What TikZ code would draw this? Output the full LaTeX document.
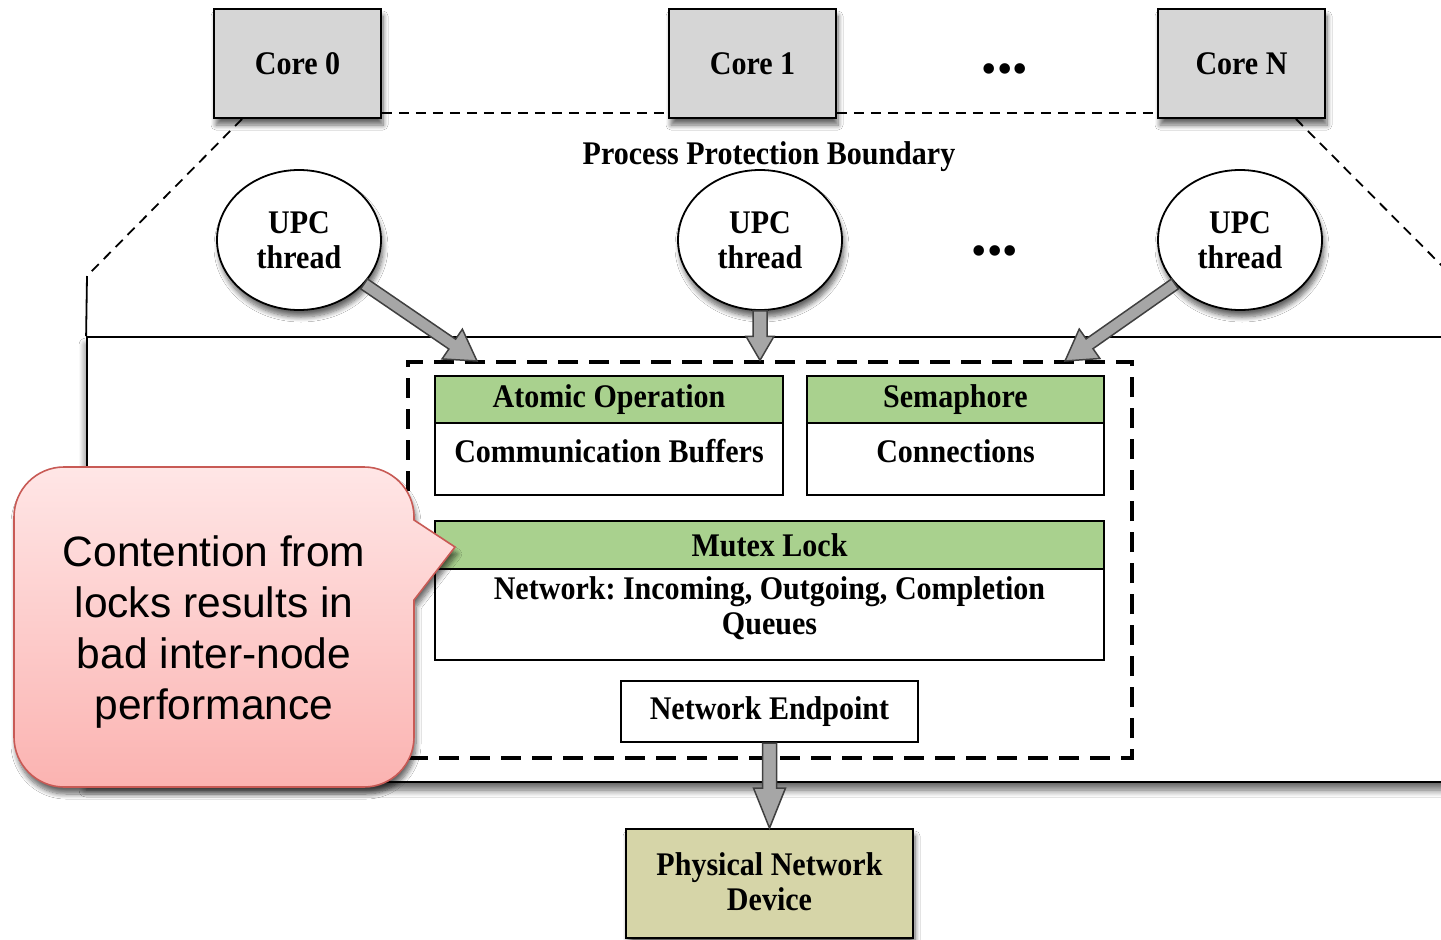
\documentclass[tikz,border=0pt]{standalone}
\usepackage{fontspec}
\setmainfont{Liberation Serif}[FakeStretch=0.91]
\newfontfamily\dotsfont{Liberation Serif}
\newfontfamily\callfont{Liberation Sans}
\usetikzlibrary{shapes.geometric,shadows.blur,calc}
\frenchspacing

\definecolor{coregray}{HTML}{D6D6D6}
\definecolor{hdrgreen}{HTML}{A9D18E}
\definecolor{physkhaki}{HTML}{D6D5A8}
\definecolor{arrowfill}{HTML}{A6A6A6}
\definecolor{arrowline}{HTML}{404040}
\definecolor{calltop}{HTML}{FFE6E6}
\definecolor{callbot}{HTML}{FBB3B1}
\definecolor{callline}{HTML}{C85A55}

\tikzset{
  boxtext/.style={font=\fontsize{33}{35}\selectfont\bfseries, align=center, inner sep=0pt},
  softshadow/.style={blur shadow={shadow xshift=2pt, shadow yshift=-7pt,
      shadow blur radius=5pt, shadow blur steps=8, shadow opacity=60}},
  corebox/.style={boxtext, draw, line width=1.8pt, fill=coregray,
      minimum width=167pt, minimum height=109pt, softshadow},
  thread/.style={boxtext, ellipse, draw, line width=1.8pt, fill=white,
      minimum width=164pt, minimum height=140pt, softshadow},
  header/.style={boxtext, draw, line width=2pt, fill=hdrgreen},
  panel/.style={draw, line width=2pt, fill=white, inner sep=0pt},
  boundary/.style={line width=1.8pt, dash pattern=on 10pt off 7pt},
  region/.style={draw, line width=3.4pt, dash pattern=on 20pt off 11pt, inner sep=0pt},
  dotrow/.style={font=\dotsfont\fontsize{44}{44}\selectfont, inner sep=0pt},
  blockarrowstyle/.style={fill=arrowfill, draw=arrowline, line width=1.5pt, line join=miter},
}

% block arrow: start, end, shaft half width, head half width, head length
\newcommand\blockarrow[5]{%
  \path (#1) coordinate (bas) (#2) coordinate (bae);
  \path ($(bae)!#5!(bas)$) coordinate (bah);
  \filldraw[blockarrowstyle]
    ($(bas)!#3!90:(bae)$) -- ($(bah)!#3!90:(bae)$) -- ($(bah)!#4!90:(bae)$)
    -- (bae) -- ($(bah)!#4!-90:(bae)$) -- ($(bah)!#3!-90:(bae)$)
    -- ($(bas)!#3!-90:(bae)$) -- cycle;
}

\begin{document}
\begin{tikzpicture}[x=1pt,y=-1pt]
\useasboundingbox (0,0) rectangle (1441,940);
\clip (0,0) rectangle (1441,940);
\fill[white] (0,0) rectangle (1441,940);

% process region
\node[panel, line width=1.8pt, minimum width=1383pt, minimum height=445pt,
      blur shadow={shadow xshift=-1pt, shadow yshift=-8pt, shadow blur radius=7pt,
      shadow blur steps=8, shadow opacity=60}] (proc) at (778.5,559.5) {};

% cores
\node[corebox] (c0) at (297.5,63.5) {Core 0};
\node[corebox] (c1) at (752.5,63.5) {Core 1};
\node[corebox] (cN) at (1241.5,63.5) {Core N};
\node[dotrow] (cdots) at (1005,74) {•••};

% protection boundary
\coordinate (bl) at (87,276);
\coordinate (br) at (1470,294);
\draw[boundary] ($(c0.south east)+(0,-6)$) -- ($(c1.south west)+(0,-6)$);
\draw[boundary] ($(c1.south east)+(0,-6)$) -- ($(cN.south west)+(0,-6)$);
\draw[boundary] ($(c0.south west)+(29,0)$) -- (bl);
\draw[boundary] ($(cN.south east)+(-30,0)$) -- (br);
\draw[line width=1.8pt] (bl) -- (proc.north west);
\node[boxtext] (ppb) at (769,157) {Process Protection Boundary};

% threads
\node[thread] (u0) at (299,240) {UPC\\thread};
\node[thread] (u1) at (760,240) {UPC\\thread};
\node[thread] (u2) at (1240,240) {UPC\\thread};
\node[dotrow] (udots) at (995,256) {•••};

% dashed region holding the shared resources
\node[region, minimum width=724pt, minimum height=396pt] (dbox) at (770,560) {};
\coordinate (t0) at (477,361);
\coordinate (t1) at (u1.south |- dbox.north);
\coordinate (t2) at (1065,361);
\blockarrow{u0.-34}{t0}{6pt}{18pt}{30pt}
\blockarrow{u1.south}{t1}{7pt}{14pt}{24pt}
\blockarrow{u2.-146}{t2}{6pt}{18pt}{30pt}

% resources
\node[panel, minimum width=348pt, minimum height=72pt] (atomb) at (609,459) {};
\node[header, minimum width=348pt, minimum height=47pt] (atomh) at (609,399.5) {Atomic Operation};
\node[boxtext] (atomt) at (609,451) {Communication Buffers};

\node[panel, minimum width=297pt, minimum height=72pt] (semab) at (955.5,459) {};
\node[header, minimum width=297pt, minimum height=47pt] (semah) at (955.5,399.5) {Semaphore};
\node[boxtext] (semat) at (955.5,451) {Connections};

\node[panel, minimum width=669pt, minimum height=91pt] (mutb) at (769.5,614.5) {};
\node[header, minimum width=669pt, minimum height=48pt] (muth) at (769.5,545) {Mutex Lock};
\node[boxtext] (mutt) at (769.5,608) {Network: Incoming, Outgoing, Completion\\Queues};

\node[panel, boxtext, minimum width=297pt, minimum height=61pt] (ep) at (769.5,711.5) {Network Endpoint};

% device
\node[boxtext, draw, line width=1.8pt, fill=physkhaki, minimum width=287pt,
      minimum height=109pt, softshadow] (phys) at (769.5,883.5) {};
\node[boxtext] (physt) at (769.5,882) {Physical Network\\Device};
\blockarrow{ep.south}{phys.north}{7pt}{16pt}{40pt}

% callout
\path[draw=callline, line width=1.6pt, top color=calltop, bottom color=callbot, softshadow]
  (14,517) .. controls (14,489.4) and (36.4,467) .. (64,467) -- (364,467)
  .. controls (391.6,467) and (414,489.4) .. (414,517) -- (414,520) -- (455,547)
  -- (414,600) -- (414,737) .. controls (414,764.6) and (391.6,787) .. (364,787)
  -- (64,787) .. controls (36.4,787) and (14,764.6) .. (14,737) -- cycle;
\node[font=\callfont\fontsize{42.5}{51}\selectfont, align=center, inner sep=0pt] (note)
  at (214,632) {Contention from\\locks results in\\bad inter-node\\performance};
\end{tikzpicture}
\end{document}
